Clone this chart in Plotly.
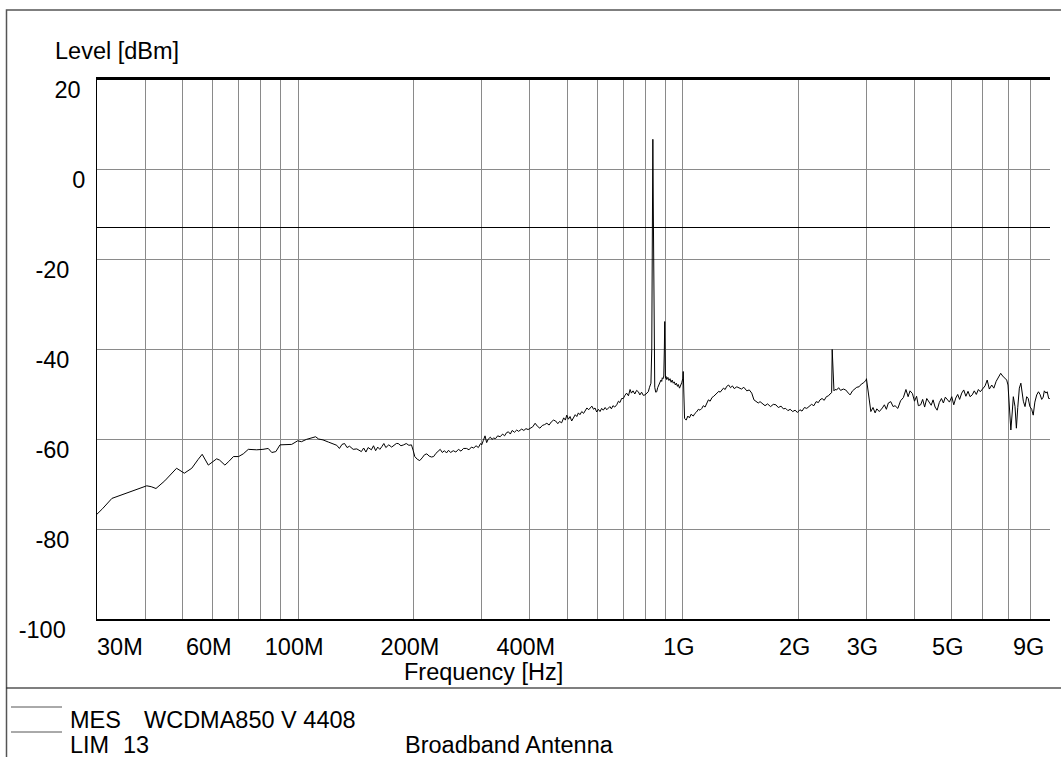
import math
import plotly.graph_objects as go

# ---------------- data ----------------
freq_mhz = [
    30, 31, 32.8, 34.5, 36.5, 38.5, 40.4, 41.5, 42.7, 45, 48.3, 50.6, 52.9, 55, 56.3, 58.4, 60, 61.4, 62.5,
    64.5, 66, 67.9, 70, 72, 74.2, 78, 81, 83.6, 85.4, 87.5, 89.7, 93, 96.2, 99.7, 102, 105, 108, 111, 113,
    116, 120, 123, 126, 128, 130, 132, 134, 136, 139, 142, 144, 146, 148, 150, 152, 155, 157, 159, 161, 163,
    165, 167, 169, 172, 175, 178, 180, 182, 185, 188, 191, 194, 197, 199, 201, 204, 207, 210, 213, 216, 219,
    222, 225, 228, 231, 234, 237, 240, 243, 246, 249, 253, 257, 261, 265, 269, 274, 278, 282, 286, 290, 294,
    298, 300, 303, 306, 309, 312, 316, 319, 322, 326, 330, 335, 340, 344, 348, 352, 356, 360, 365, 370, 374,
    377, 381, 386, 391, 396, 401, 407, 413, 419, 425, 431, 437, 443, 449, 455, 461, 467, 473, 478, 484, 490,
    495, 499, 504, 509, 514, 519, 525, 530, 535, 540, 546, 552, 557, 563, 569, 575, 580, 586, 591, 597, 603,
    609, 615, 621, 628, 634, 640, 646, 652, 658, 665, 673, 680, 686, 693, 700, 707, 714, 722, 729, 735, 742,
    750, 758, 766, 773, 781, 789, 797, 805, 813, 819, 826, 830, 833, 835.5, 838, 841, 845, 850, 855, 860,
    866, 872, 877, 881, 884, 888, 892, 895, 897, 899, 901, 904, 908, 914, 920, 926, 932, 938, 944, 950, 956,
    962, 968, 973, 980, 987, 993, 1000,
    1002, 1010, 1020, 1030, 1040, 1050, 1064, 1075, 1085, 1097, 1108, 1120, 1130, 1142, 1153, 1165, 1177,
    1190, 1203, 1215, 1227, 1240, 1250, 1262, 1275, 1288, 1300, 1315, 1330, 1345, 1360, 1381, 1400, 1420,
    1440, 1466, 1488, 1510, 1530, 1550, 1570, 1587, 1610, 1635, 1660, 1690, 1718, 1745, 1770, 1800, 1824,
    1850, 1875, 1900, 1930, 1957, 1985, 2015, 2040, 2070, 2099, 2130, 2160, 2190, 2220, 2250, 2272, 2300,
    2330, 2360, 2390, 2412, 2428, 2436, 2444, 2470, 2486, 2510, 2540, 2570, 2613, 2650, 2692, 2720, 2760,
    2800, 2831, 2870, 2910, 2950, 2975, 2995,
    3000, 3034, 3080, 3120, 3160, 3192, 3240, 3300, 3340, 3380, 3420, 3470, 3520, 3560, 3620, 3680, 3742,
    3800, 3850, 3894, 3950, 4000, 4050, 4093, 4150, 4200, 4250, 4304, 4360, 4420, 4470, 4524, 4580, 4640,
    4700, 4755, 4810, 4870, 4930, 4999, 5060, 5120, 5180, 5240, 5306, 5370, 5440, 5510, 5578, 5650, 5720,
    5790, 5863, 5930, 6020, 6102, 6180, 6260, 6350, 6430, 6520, 6606, 6700, 6780, 6875, 6945, 7000, 7055,
    7120, 7180, 7226, 7300, 7360, 7420, 7491, 7560, 7620, 7672, 7750, 7828, 7900, 7980, 8066, 8140, 8220,
    8312, 8400, 8480, 8564, 8640, 8700, 8789, 8850, 8930, 8990,
]

level_dbm = [
    -76.7, -75.5, -73.2, -72.5, -71.8, -71.1, -70.4, -70.6, -71.0, -69.3, -66.5, -67.6, -66.5, -64.5, -63.4,
    -65.8, -65.0, -64.4, -64.7, -65.8, -65.0, -63.9, -63.9, -63.3, -62.3, -62.4, -62.3, -62.1, -63.0, -62.8,
    -61.3, -61.2, -61.2, -60.4, -60.6, -60.1, -59.8, -59.5, -60.0, -60.2, -60.7, -61.0, -61.4, -62.1, -61.2,
    -61.0, -61.9, -61.6, -62.3, -62.2, -62.5, -62.8, -62.0, -62.9, -61.9, -62.4, -61.5, -62.6, -61.8, -62.3,
    -61.7, -61.0, -61.9, -61.3, -61.8, -61.2, -61.0, -61.0, -61.5, -61.3, -61.0, -61.4, -61.3, -62.5, -63.9,
    -64.5, -64.8, -64.2, -63.5, -63.3, -63.8, -64.0, -63.9, -63.2, -62.8, -62.3, -63.0, -62.6, -63.1, -62.5,
    -63.0, -62.6, -62.9, -62.3, -62.7, -62.1, -62.1, -62.4, -61.8, -62.0, -61.5, -61.9, -61.0, -61.3, -60.3,
    -59.3, -60.8, -60.0, -59.6, -60.1, -59.8, -59.9, -59.3, -59.5, -58.9, -59.3, -58.6, -58.4, -58.9, -58.1,
    -58.5, -58.0, -58.3, -58.0, -57.8, -58.1, -57.7, -57.9, -57.6, -57.3, -56.5, -57.2, -57.6, -57.0, -56.8,
    -56.5, -56.9, -56.2, -55.8, -56.0, -56.6, -56.1, -56.4, -55.3, -55.8, -54.7, -55.6, -55.0, -56.0, -55.4,
    -54.6, -55.0, -54.2, -54.6, -53.9, -54.3, -53.6, -53.1, -53.5, -52.9, -52.7, -53.4, -53.1, -54.0, -53.4,
    -53.9, -53.2, -53.6, -53.0, -53.5, -53.2, -52.8, -53.3, -52.6, -52.9, -52.4, -51.6, -51.9, -51.0, -51.0,
    -50.3, -49.8, -50.4, -49.0, -49.8, -49.3, -50.0, -49.2, -49.5, -50.2, -49.6, -50.3, -50.2, -49.8, -49.5,
    -48.5, -47.6, -40.0, -10.0, 6.6, -10.0, -38.0, -48.5, -49.6, -49.5, -48.6, -48.0, -47.4, -46.9, -47.2,
    -46.4, -46.6, -46.0, -40.0, -33.9, -40.0, -46.5, -46.1, -46.8, -46.3, -47.0, -46.6, -47.4, -46.9, -47.6,
    -47.3, -48.0, -47.6, -48.3, -47.9, -48.7, -48.2, -47.5, -46.5, -45.0,
    -55.4, -55.8, -54.9, -55.3, -54.5, -54.9, -54.3, -54.0, -53.4, -53.6, -53.2, -52.6, -52.9, -52.0, -51.3,
    -51.6, -50.8, -50.5, -50.1, -49.9, -49.4, -49.6, -49.1, -48.7, -49.0, -48.3, -48.0, -48.6, -48.2, -48.8,
    -48.4, -48.7, -48.9, -48.5, -49.3, -49.1, -49.8, -51.3, -51.6, -52.0, -51.7, -52.1, -52.6, -52.2, -52.8,
    -52.3, -52.4, -53.0, -52.7, -53.3, -53.2, -53.7, -53.4, -53.9, -53.6, -54.1, -53.5, -53.8, -53.0, -53.2,
    -52.8, -52.3, -52.6, -51.7, -51.9, -51.3, -51.0, -51.4, -50.6, -50.4, -50.0, -49.9, -49.7, -40.1, -49.3,
    -49.0, -49.1, -48.6, -49.2, -48.9, -49.1, -49.8, -50.2, -49.3, -48.8, -48.5, -48.4, -47.8, -47.5, -47.2,
    -46.9, -46.6,
    -50.2, -53.9, -53.0, -54.2, -53.3, -53.9, -53.1, -52.4, -53.4, -52.0, -51.7, -52.8, -52.6, -53.2, -51.5,
    -50.8, -49.0, -50.6, -49.3, -49.9, -51.6, -50.5, -52.6, -52.4, -51.2, -52.9, -51.0, -51.7, -52.5, -51.3,
    -52.9, -53.6, -51.9, -51.0, -52.0, -50.7, -51.3, -51.8, -50.6, -52.4, -50.9, -50.1, -51.2, -49.8, -49.1,
    -50.5, -49.4, -50.6, -50.2, -49.3, -50.1, -49.0, -49.5, -48.7, -48.2, -46.9, -48.9, -48.0, -48.7, -47.2,
    -46.3, -45.4, -46.0, -46.6, -46.9, -48.0, -53.0, -58.0, -54.0, -50.6, -52.8, -57.6, -53.0, -48.7, -47.6,
    -50.3, -51.6, -52.8, -50.6, -51.0, -52.8, -53.4, -54.7, -51.8, -50.2, -49.5, -50.1, -51.2, -50.7, -49.3,
    -49.8, -49.5, -51.0, -51.0, -56.5,
]

limit_dbm = -13
limit_span_mhz = [30, 9000]

x_tick_vals = [30, 40, 50, 60, 70, 80, 90, 100, 200, 300, 400, 500, 600, 700, 800, 900,
               1000, 2000, 3000, 4000, 5000, 6000, 7000, 8000, 9000]
x_tick_text = ["30M", "", "", "60M", "", "", "", "100M", "200M", "", "400M", "", "", "", "", "",
               "1G", "2G", "3G", "", "5G", "", "", "", "9G"]

y_tick_vals = [20, 0, -20, -40, -60, -80, -100]
y_tick_text = ["20", "0", "-20", "-40", "-60", "-80", "-100"]

x_title = "Frequency [Hz]"
y_title = "Level [dBm]"
legend_rows = [("MES", "WCDMA850 V 4408", ""), ("LIM", "13", "Broadband Antenna")]

# ---------------- layout geometry ----------------
W, H = 1061, 757
L, R, T, B = 97, 1050, 79, 619
PW, PH = R - L, B - T
X_RANGE = [math.log10(x_tick_vals[0]), math.log10(x_tick_vals[-1])]


def px(x):
    return (x - L) / PW


def py(y):
    return (B - y) / PH


def fx(freq):
    return (math.log10(freq) - X_RANGE[0]) / (X_RANGE[1] - X_RANGE[0])


NB = "\u00a0"
TH = "\u2009"
# edge tick labels are drawn as annotations nudged inwards (as in the reference)
x_text = list(x_tick_text)
x_text[0] = ""
x_text[-1] = ""
edge_labels = [(x_tick_vals[0], x_tick_text[0], 23), (x_tick_vals[-1], x_tick_text[-1], -22)]
y_pad = {"20": TH, "0": "", "-20": NB + TH + TH, "-40": NB + TH + TH, "-60": NB + TH + TH,
         "-80": NB + TH + TH, "-100": NB * 3}
y_text = [t + y_pad[t] for t in y_tick_text]

FONT = "Liberation Sans, Arial, sans-serif"
FS = 23.5
GRID = "#8a8a8a"

fig = go.Figure()
fig.add_trace(go.Scatter(x=freq_mhz, y=level_dbm, mode="lines",
                         line=dict(color="black", width=1), showlegend=False, hoverinfo="skip"))
fig.add_trace(go.Scatter(x=limit_span_mhz, y=[limit_dbm, limit_dbm], mode="lines",
                         line=dict(color="black", width=1), showlegend=False, hoverinfo="skip"))

fig.update_layout(
    width=W, height=H, autosize=False,
    margin=dict(l=L, r=W - R, t=T, b=H - B, pad=0, autoexpand=False),
    paper_bgcolor="white", plot_bgcolor="white",
    font=dict(family=FONT, size=FS, color="black"),
    xaxis=dict(type="log", range=X_RANGE, automargin=False,
               tickvals=x_tick_vals, ticktext=x_text, ticks="",
               showgrid=True, gridcolor=GRID, gridwidth=1,
               showline=True, linecolor="black", linewidth=1.5, mirror=True,
               ticklabelshift=-4, ticklabelstandoff=6,
               zeroline=False),
    yaxis=dict(range=[-100, 20], automargin=False, tickvals=y_tick_vals, ticktext=y_text, ticks="",
               showgrid=True, gridcolor=GRID, gridwidth=1,
               showline=True, linecolor="black", linewidth=1,
               ticklabelshift=11, ticklabelstandoff=6, zeroline=False),
)

shapes = [
    # outer frame
    dict(type="rect", xref="paper", yref="paper", x0=px(6.5), x1=px(1070), y0=py(770), y1=py(10),
         line=dict(color="#555555", width=1.5), layer="below"),
    # separator above legend block
    dict(type="line", xref="paper", yref="paper", x0=px(6.5), x1=px(1070), y0=py(688), y1=py(688),
         line=dict(color="black", width=1.2)),
    # top border of plot, slightly heavier
    dict(type="line", xref="paper", yref="paper", x0=0, x1=1, y0=1, y1=1,
         line=dict(color="black", width=2)),
]
legend_line_y = [707, 732]
for yy in legend_line_y:
    shapes.append(dict(type="line", xref="paper", yref="paper", x0=px(11), x1=px(62),
                       y0=py(yy), y1=py(yy), line=dict(color="#555555", width=1)))
fig.update_layout(shapes=shapes)

ann = [
    dict(text=y_title, x=px(53), y=py(51), xanchor="left", yanchor="middle"),
    dict(text=x_title, x=px(483), y=py(672), xanchor="center", yanchor="middle"),
]
for val, txt, shift in edge_labels:
    ann.append(dict(text=txt, x=fx(val), y=py(647), xanchor="center", yanchor="middle", xshift=shift))
row_y = [720, 745]
col_x = [68, 142, 403]
col_x_lim = [68, 121, 403]
for (a, b, c), yy, cols in zip(legend_rows, row_y, [col_x, col_x_lim]):
    for txt, xx in zip((a, b, c), cols):
        if txt:
            ann.append(dict(text=txt, x=px(xx), y=py(yy), xanchor="left", yanchor="middle"))
for a in ann:
    a.update(xref="paper", yref="paper", showarrow=False, font=dict(family=FONT, size=FS, color="black"))
fig.update_layout(annotations=ann)

fig.write_html("out.html", config={"displayModeBar": False, "responsive": False},
               post_script="document.body.style.margin='0px';document.body.style.overflow='hidden';")
